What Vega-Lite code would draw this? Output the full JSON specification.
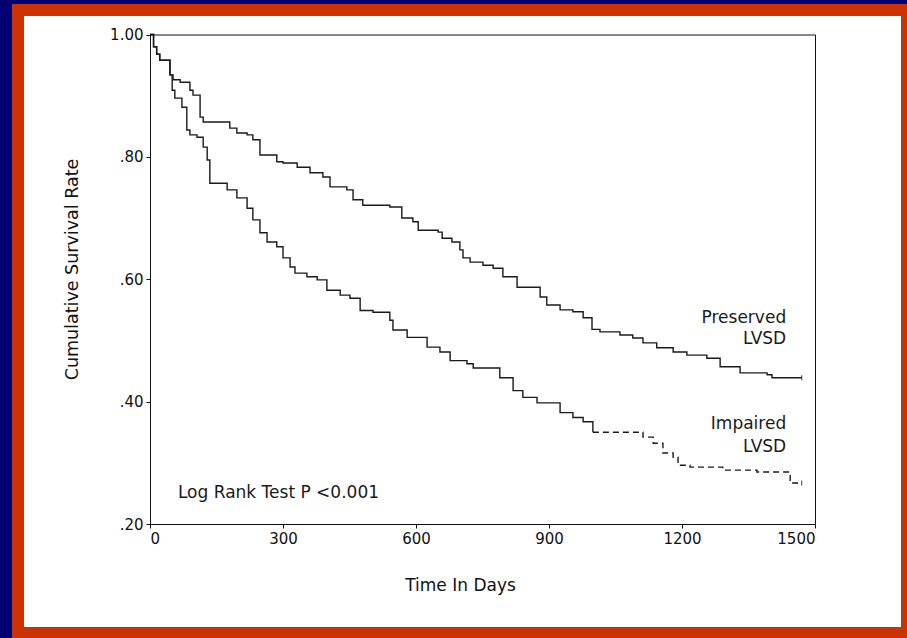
{
  "$schema": "https://vega.github.io/schema/vega-lite/v6.json",
  "width": 889,
  "height": 623,
  "autosize": {"type": "none"},
  "padding": {"left": 18, "top": 10, "right": 0, "bottom": 5},
  "background": "#000070",
  "view": {"fill": "#ffffff", "stroke": "#cc3300", "strokeWidth": 12},
  "config": {"font": "DejaVu Sans"},
  "datasets": {
    "curves": [
      {"group": "Preserved", "day": 0, "rate": 1.0},
      {"group": "Preserved", "day": 8, "rate": 0.98},
      {"group": "Preserved", "day": 15, "rate": 0.968},
      {"group": "Preserved", "day": 22, "rate": 0.958},
      {"group": "Preserved", "day": 45, "rate": 0.934},
      {"group": "Preserved", "day": 52, "rate": 0.926},
      {"group": "Preserved", "day": 68, "rate": 0.922},
      {"group": "Preserved", "day": 90, "rate": 0.909},
      {"group": "Preserved", "day": 97, "rate": 0.901},
      {"group": "Preserved", "day": 113, "rate": 0.865},
      {"group": "Preserved", "day": 120, "rate": 0.857},
      {"group": "Preserved", "day": 180, "rate": 0.847},
      {"group": "Preserved", "day": 196, "rate": 0.839},
      {"group": "Preserved", "day": 219, "rate": 0.836},
      {"group": "Preserved", "day": 232, "rate": 0.828},
      {"group": "Preserved", "day": 248, "rate": 0.803},
      {"group": "Preserved", "day": 286, "rate": 0.792},
      {"group": "Preserved", "day": 300, "rate": 0.79},
      {"group": "Preserved", "day": 332, "rate": 0.783},
      {"group": "Preserved", "day": 361, "rate": 0.774},
      {"group": "Preserved", "day": 390, "rate": 0.767},
      {"group": "Preserved", "day": 406, "rate": 0.751},
      {"group": "Preserved", "day": 444, "rate": 0.746},
      {"group": "Preserved", "day": 458, "rate": 0.73},
      {"group": "Preserved", "day": 480, "rate": 0.721},
      {"group": "Preserved", "day": 541, "rate": 0.718},
      {"group": "Preserved", "day": 568, "rate": 0.7},
      {"group": "Preserved", "day": 593, "rate": 0.694},
      {"group": "Preserved", "day": 605, "rate": 0.68},
      {"group": "Preserved", "day": 650, "rate": 0.677},
      {"group": "Preserved", "day": 659, "rate": 0.667},
      {"group": "Preserved", "day": 681, "rate": 0.661},
      {"group": "Preserved", "day": 699, "rate": 0.648},
      {"group": "Preserved", "day": 706, "rate": 0.635},
      {"group": "Preserved", "day": 722, "rate": 0.628},
      {"group": "Preserved", "day": 751, "rate": 0.623},
      {"group": "Preserved", "day": 774, "rate": 0.618},
      {"group": "Preserved", "day": 796, "rate": 0.604},
      {"group": "Preserved", "day": 828, "rate": 0.587},
      {"group": "Preserved", "day": 880, "rate": 0.571},
      {"group": "Preserved", "day": 895, "rate": 0.558},
      {"group": "Preserved", "day": 925, "rate": 0.55},
      {"group": "Preserved", "day": 954, "rate": 0.547},
      {"group": "Preserved", "day": 977, "rate": 0.537},
      {"group": "Preserved", "day": 997, "rate": 0.518},
      {"group": "Preserved", "day": 1015, "rate": 0.514},
      {"group": "Preserved", "day": 1060, "rate": 0.509},
      {"group": "Preserved", "day": 1089, "rate": 0.504},
      {"group": "Preserved", "day": 1112, "rate": 0.496},
      {"group": "Preserved", "day": 1143, "rate": 0.488},
      {"group": "Preserved", "day": 1180, "rate": 0.481},
      {"group": "Preserved", "day": 1211, "rate": 0.476},
      {"group": "Preserved", "day": 1256, "rate": 0.471},
      {"group": "Preserved", "day": 1286, "rate": 0.457},
      {"group": "Preserved", "day": 1331, "rate": 0.447},
      {"group": "Preserved", "day": 1392, "rate": 0.444},
      {"group": "Preserved", "day": 1403, "rate": 0.439},
      {"group": "Preserved", "day": 1470, "rate": 0.439},
      {"group": "Impaired", "day": 0, "rate": 1.0},
      {"group": "Impaired", "day": 8, "rate": 0.98},
      {"group": "Impaired", "day": 15, "rate": 0.968},
      {"group": "Impaired", "day": 22, "rate": 0.958},
      {"group": "Impaired", "day": 45, "rate": 0.934},
      {"group": "Impaired", "day": 50, "rate": 0.909},
      {"group": "Impaired", "day": 56, "rate": 0.896},
      {"group": "Impaired", "day": 72, "rate": 0.881},
      {"group": "Impaired", "day": 83, "rate": 0.844},
      {"group": "Impaired", "day": 90, "rate": 0.836},
      {"group": "Impaired", "day": 106, "rate": 0.832},
      {"group": "Impaired", "day": 120, "rate": 0.816},
      {"group": "Impaired", "day": 129, "rate": 0.795},
      {"group": "Impaired", "day": 135, "rate": 0.757},
      {"group": "Impaired", "day": 174, "rate": 0.746},
      {"group": "Impaired", "day": 196, "rate": 0.733},
      {"group": "Impaired", "day": 219, "rate": 0.716},
      {"group": "Impaired", "day": 232, "rate": 0.697},
      {"group": "Impaired", "day": 248, "rate": 0.676},
      {"group": "Impaired", "day": 264, "rate": 0.661},
      {"group": "Impaired", "day": 286, "rate": 0.653},
      {"group": "Impaired", "day": 300, "rate": 0.635},
      {"group": "Impaired", "day": 316, "rate": 0.62},
      {"group": "Impaired", "day": 327, "rate": 0.61},
      {"group": "Impaired", "day": 354, "rate": 0.604},
      {"group": "Impaired", "day": 377, "rate": 0.599},
      {"group": "Impaired", "day": 399, "rate": 0.582},
      {"group": "Impaired", "day": 429, "rate": 0.574},
      {"group": "Impaired", "day": 451, "rate": 0.569},
      {"group": "Impaired", "day": 474, "rate": 0.549},
      {"group": "Impaired", "day": 503, "rate": 0.546},
      {"group": "Impaired", "day": 541, "rate": 0.533},
      {"group": "Impaired", "day": 548, "rate": 0.517},
      {"group": "Impaired", "day": 580, "rate": 0.505},
      {"group": "Impaired", "day": 625, "rate": 0.489},
      {"group": "Impaired", "day": 654, "rate": 0.481},
      {"group": "Impaired", "day": 677, "rate": 0.467},
      {"group": "Impaired", "day": 715, "rate": 0.462},
      {"group": "Impaired", "day": 729, "rate": 0.455},
      {"group": "Impaired", "day": 789, "rate": 0.439},
      {"group": "Impaired", "day": 819, "rate": 0.418},
      {"group": "Impaired", "day": 841, "rate": 0.407},
      {"group": "Impaired", "day": 873, "rate": 0.398},
      {"group": "Impaired", "day": 925, "rate": 0.382},
      {"group": "Impaired", "day": 954, "rate": 0.374},
      {"group": "Impaired", "day": 977, "rate": 0.367},
      {"group": "Impaired", "day": 999, "rate": 0.35},
      {"group": "Impaired", "day": 1112, "rate": 0.342},
      {"group": "Impaired", "day": 1135, "rate": 0.332},
      {"group": "Impaired", "day": 1157, "rate": 0.316},
      {"group": "Impaired", "day": 1180, "rate": 0.309},
      {"group": "Impaired", "day": 1191, "rate": 0.296},
      {"group": "Impaired", "day": 1218, "rate": 0.293},
      {"group": "Impaired", "day": 1292, "rate": 0.288},
      {"group": "Impaired", "day": 1369, "rate": 0.285},
      {"group": "Impaired", "day": 1444, "rate": 0.267},
      {"group": "Impaired", "day": 1470, "rate": 0.267}
    ],
    "labels": [
      {"text": "Preserved", "day": 1435, "rate": 0.537},
      {"text": "LVSD", "day": 1435, "rate": 0.502},
      {"text": "Impaired", "day": 1435, "rate": 0.363},
      {"text": "LVSD", "day": 1435, "rate": 0.326}
    ],
    "note": [
      {"text": "Log Rank Test P <0.001", "day": 63, "rate": 0.251}
    ]
  },
  "resolve": {"axis": {"x": "independent", "y": "independent"}},
  "layer": [
    {
      "data": {"name": "curves"},
      "transform": [{"filter": "datum.group === 'Preserved'"}],
      "mark": {"type": "line", "interpolate": "step-after", "color": "#1a1a1a", "strokeWidth": 1.4},
      "encoding": {
        "x": {
          "field": "day", "type": "quantitative",
          "scale": {"domain": [0, 1500], "range": [132, 797], "nice": false, "zero": false},
          "axis": {
            "orient": "bottom", "offset": -109, "grid": false,
            "values": [0, 300, 600, 900, 1200, 1500], "format": "d",
            "domainColor": "#111", "tickColor": "#111", "tickSize": 4,
            "labelColor": "#111", "labelFontSize": 15, "labelPadding": 3,
            "title": "Time In Days", "titleFontSize": 17, "titleFontWeight": "normal", "titleColor": "#111",
            "titleX": 442, "titleY": 61, "titleAlign": "center", "titleBaseline": "middle"
          }
        },
        "y": {
          "field": "rate", "type": "quantitative",
          "scale": {"domain": [0.2, 1.0], "range": [514, 24.5], "nice": false, "zero": false},
          "axis": {
            "orient": "left", "offset": -132, "grid": false,
            "values": [0.2, 0.4, 0.6, 0.8, 1.0],
            "labelExpr": "replace(format(datum.value, '.2f'), '0.', '.')",
            "domainColor": "#111", "tickColor": "#111", "tickSize": 4,
            "labelColor": "#111", "labelFontSize": 15, "labelPadding": 3,
            "title": "Cumulative Survival Rate", "titleFontSize": 17.5, "titleFontWeight": "normal", "titleColor": "#111",
            "titleX": -78, "titleY": 259, "titleAngle": -90, "titleAlign": "center", "titleBaseline": "middle"
          }
        }
      }
    },
    {
      "data": {"name": "curves"},
      "transform": [{"filter": "datum.group === 'Impaired' && datum.day <= 999"}],
      "mark": {"type": "line", "interpolate": "step-after", "color": "#1a1a1a", "strokeWidth": 1.4},
      "encoding": {
        "x": {"field": "day", "type": "quantitative",
          "axis": {"orient": "top", "offset": -24.5, "grid": false, "labels": false, "ticks": false, "title": null, "domainColor": "#111"}},
        "y": {"field": "rate", "type": "quantitative",
          "axis": {"orient": "right", "offset": -92, "grid": false, "labels": false, "ticks": false, "title": null, "domainColor": "#111"}}
      }
    },
    {
      "data": {"name": "curves"},
      "transform": [{"filter": "datum.group === 'Impaired' && datum.day >= 999"}],
      "mark": {"type": "line", "interpolate": "step-after", "color": "#1a1a1a", "strokeWidth": 1.4, "strokeDash": [6, 4]},
      "encoding": {
        "x": {"field": "day", "type": "quantitative", "axis": null},
        "y": {"field": "rate", "type": "quantitative", "axis": null}
      }
    },
    {
      "data": {"name": "curves"},
      "transform": [{"filter": "datum.day === 1470"}],
      "mark": {"type": "tick", "orient": "vertical", "size": 5, "thickness": 1.2, "color": "#1a1a1a"},
      "encoding": {
        "x": {"field": "day", "type": "quantitative", "axis": null},
        "y": {"field": "rate", "type": "quantitative", "axis": null}
      }
    },
    {
      "data": {"name": "labels"},
      "mark": {"type": "text", "align": "right", "baseline": "middle", "fontSize": 17, "color": "#1a1a1a"},
      "encoding": {
        "x": {"field": "day", "type": "quantitative", "axis": null},
        "y": {"field": "rate", "type": "quantitative", "axis": null},
        "text": {"field": "text"}
      }
    },
    {
      "data": {"name": "note"},
      "mark": {"type": "text", "align": "left", "baseline": "middle", "fontSize": 17, "color": "#1a1a1a"},
      "encoding": {
        "x": {"field": "day", "type": "quantitative", "axis": null},
        "y": {"field": "rate", "type": "quantitative", "axis": null},
        "text": {"field": "text"}
      }
    }
  ]
}
